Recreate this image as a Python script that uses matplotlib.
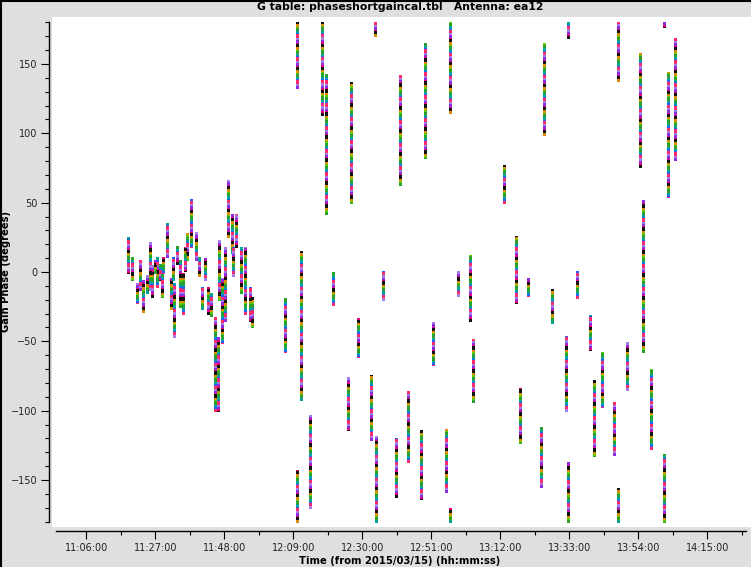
import numpy as np
import matplotlib.pyplot as plt
from matplotlib.ticker import FixedLocator, FuncFormatter
from matplotlib.lines import Line2D

# gain solution streaks: scan time, upper and lower phase (degrees)
scan_time = [
    "11:18:46", "11:19:48", "11:21:18", "11:22:20", "11:23:20", "11:24:36",
    "11:25:22", "11:25:52", "11:26:52", "11:27:24", "11:28:24", "11:28:56",
    "11:29:24", "11:30:26", "11:31:39", "11:32:16", "11:32:48", "11:33:40",
    "11:34:30", "11:35:18", "11:36:00", "11:36:42", "11:37:50", "11:39:18",
    "11:40:18", "11:41:04", "11:42:04", "11:43:04", "11:44:06", "11:45:06",
    "11:46:00", "11:46:26", "11:47:10", "11:48:10", "11:49:10", "11:50:12",
    "11:50:42", "11:51:42", "11:52:56", "11:54:14", "11:55:48", "11:56:30",
    "12:06:24",
    "12:10:10", "12:10:10", "12:11:28", "12:14:00", "12:17:48", "12:18:51",
    "12:20:59", "12:25:33", "12:26:27", "12:28:35", "12:32:41", "12:33:45",
    "12:34:03", "12:36:11", "12:40:08", "12:41:30", "12:43:47", "12:47:53",
    "12:48:57", "12:51:23", "12:55:20", "12:56:33", "12:56:33", "12:58:59",
    "13:02:38", "13:03:41", "13:12:58", "13:16:46", "13:17:49", "13:20:15",
    "13:24:25", "13:25:25", "13:27:46", "13:31:49", "13:32:43", "13:32:43",
    "13:35:22", "13:39:24", "13:40:37", "13:42:58", "13:46:42", "13:47:55",
    "13:47:55", "13:50:26", "13:54:36", "13:55:22", "13:57:51", "14:01:44",
    "14:01:54", "14:03:07", "14:05:14",
]
phase_hi = [
    25, 11, -8, 9, -6, -2,
    22, 5, 9, 11, 6, 1,
    11, 35, -4, 11, -8, 19,
    9, -1, 18, 28, 53, 29,
    11, -11, 10, -11, -15, -32,
    -47, 23, -4, 18, 66, 42,
    18, 42, 18, 18, -11, -18,
    -19,
    180, -143, 15, -103, 180, 143,
    0, -76, 137, -33, -74, 180,
    -118, 1, -120, 142, -86, -114,
    165, -36, -113, 180, -170, 1,
    12, -48, 77, 26, -84, -4,
    -112, 165, -12, -46, 180, -137,
    1, -31, -78, -58, -94, 180,
    -156, -50, 158, 52, -70, 180,
    -131, 144, 169,
]
phase_lo = [
    -1, -6, -22, -13, -29, -15,
    -13, -18, -1, -11, -6, -18,
    -1, 11, -27, -6, -47, 6,
    -25, -30, 1, 9, 18, 9,
    -3, -27, -6, -30, -32, -100,
    -100, -20, -51, -35, 25, 14,
    -3, 18, -15, -30, -35, -40,
    -58,
    133, -180, -92, -170, 113, 42,
    -24, -114, 50, -61, -121, 170,
    -180, -20, -162, 63, -137, -164,
    82, -67, -159, 115, -180, -17,
    -35, -94, 50, -22, -123, -17,
    -155, 99, -37, -100, 169, -180,
    -19, -56, -133, -97, -132, 138,
    -180, -85, 76, -58, -128, 177,
    -180, 54, 81,
]

palette = ['#e8007a', '#5ccc00', '#1f5fff', '#8a2be2', '#d98c00',
           '#00a39a', '#a57be8', '#111111', '#2ca02c', '#ff2a6a']

tick_times = ["11:06:00", "11:27:00", "11:48:00", "12:09:00", "12:30:00",
              "12:51:00", "13:12:00", "13:33:00", "13:54:00", "14:15:00"]


def to_sec(s):
    h, m, sec = s.split(':')
    return int(h) * 3600 + int(m) * 60 + int(sec)


def hms(v, pos=None):
    v = int(round(v))
    return '{:02d}:{:02d}:{:02d}'.format(v // 3600, (v % 3600) // 60, v % 60)


t = np.array([to_sec(s) for s in scan_time], dtype=float)
hi = np.array(phase_hi, dtype=float)
lo = np.array(phase_lo, dtype=float)

major = np.array([to_sec(s) for s in tick_times], dtype=float)
minor = major + 630.0

bg = '#dfdfdf'
W, H = 751, 567
fig = plt.figure(figsize=(W / 100, H / 100), dpi=100, facecolor=bg)

ax = fig.add_axes([52 / W, (H - 527) / H, (W - 52) / W, 510 / H])
ax.set_facecolor('white')

x_left = major[0] - 625.6
x_right = major[-1] + 795.0
ax.set_xlim(x_left, x_right)
ax.set_ylim(-183.9, 183.9)

# multicoloured speckle: each colour takes a 1-px dash slot along the streak
n = len(palette)
d = 0.8
for i, c in enumerate(palette):
    styles = [(((i * 3 + j * 7) % n) * d, (d, (n - 1) * d)) for j in range(len(t))]
    ax.vlines(t, lo, hi, colors=c, linewidth=2.0, linestyles=styles,
              capstyle='butt', antialiased=False)

for side in ('top', 'right'):
    ax.spines[side].set_visible(False)
ax.spines['left'].set_position(('outward', 2))
ax.spines['left'].set_bounds(-180, 180)
ax.spines['bottom'].set_position(('outward', 3))
ax.spines['bottom'].set_bounds(major[0] - 545, major[-1] + 698)
for side in ('left', 'bottom'):
    ax.spines[side].set_linewidth(1.0)

ax.xaxis.set_major_locator(FixedLocator(major))
ax.xaxis.set_minor_locator(FixedLocator(minor[minor < major[-1] + 698]))
ax.xaxis.set_major_formatter(FuncFormatter(hms))
ax.yaxis.set_major_locator(FixedLocator(np.arange(-150, 151, 50)))
ax.yaxis.set_minor_locator(FixedLocator(np.arange(-180, 181, 10)))

ax.tick_params(which='major', length=5.5, width=0.8, labelsize=7,
               labelcolor='#222222', pad=3)
ax.tick_params(which='minor', length=3, width=0.8)

fig.text(400 / W, 1 - 7 / H, 'G table: phaseshortgaincal.tbl   Antenna: ea12',
         ha='center', va='center', fontsize=7.8, fontweight='bold')
fig.text(400 / W, 1 - 561 / H, 'Time (from 2015/03/15) (hh:mm:ss)',
         ha='center', va='center', fontsize=7.2, fontweight='bold')
fig.text(6 / W, 1 - 272 / H, 'Gain Phase (degrees)', rotation=90,
         ha='center', va='center', fontsize=7.2, fontweight='bold')

# thin dark frame on the top and left edges
fig.add_artist(Line2D([0, 1], [1 - 0.5 / H, 1 - 0.5 / H], color='black', lw=1.5))
fig.add_artist(Line2D([0.5 / W, 0.5 / W], [0, 1], color='black', lw=1.5))

fig.savefig('out.png', dpi=100, facecolor=bg)
